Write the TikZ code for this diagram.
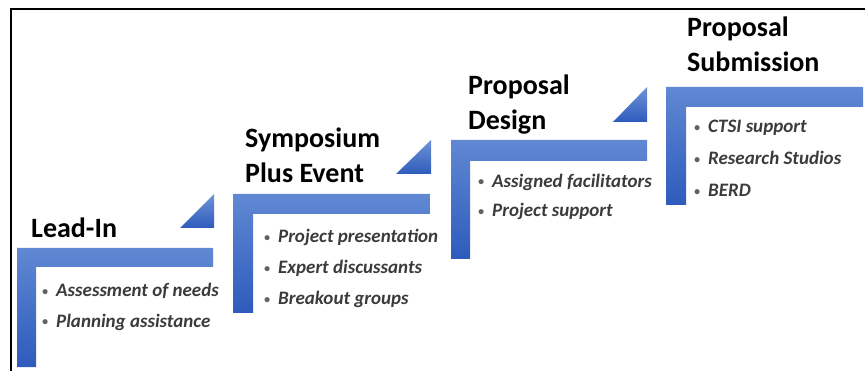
\documentclass[tikz,border=0pt]{standalone}
\usepackage{fontspec}
\setmainfont{Carlito}
\usepackage{tikz}
\usepackage{xcolor}
\definecolor{steplight}{HTML}{6088D3}
\definecolor{stepdark}{HTML}{2E5BBC}
\definecolor{bulletgrey}{HTML}{3B3B3B}
\newcommand{\stepitem}{\makebox[14pt][l]{\raisebox{1.5pt}{\fontsize{12}{12}\selectfont\color{bulletgrey!80}•}}}

\begin{document}
\begin{tikzpicture}[x=1pt, y=-1pt,
    stepfill/.style={top color=steplight, bottom color=stepdark, draw=none},
    riser/.style={top color=steplight!90!white, bottom color=stepdark, draw=none},
    steptitle/.style={anchor=base west, inner sep=0pt, align=left,
        font=\bfseries\fontsize{28}{35}\selectfont},
    steplist/.style={anchor=base west, inner sep=0pt, align=left, text=bulletgrey,
        font=\bfseries\itshape\fontsize{19}{#1}\selectfont},
    steplist/.default=30.5]
    \useasboundingbox (0, 0) rectangle (865, 371);
    \draw[line width=1.5pt] (11, 371) -- (11, 9) -- (865, 9);
    % steps
    \shade[stepfill] (17, 248) -- (213, 248) -- (213, 267) -- (36, 267) -- (36, 367) -- (17, 367) -- cycle;
    \shade[stepfill] (233, 194) -- (430, 194) -- (430, 214) -- (253, 214) -- (253, 313) -- (233, 313) -- cycle;
    \shade[stepfill] (451, 140) -- (647, 140) -- (647, 161) -- (470, 161) -- (470, 259) -- (451, 259) -- cycle;
    \shade[stepfill] (666, 87) -- (863, 87) -- (863, 107) -- (686, 107) -- (686, 205) -- (666, 205) -- cycle;
    % risers
    \shade[riser] (180, 228) -- (214, 228) -- (214, 194) -- cycle;
    \shade[riser] (396, 174) -- (431, 174) -- (431, 140) -- cycle;
    \shade[riser] (613, 122) -- (647, 122) -- (647, 87) -- cycle;
    % titles (base = last line)
    \node[steptitle] (t1) at (31, 238) {Lead-In};
    \node[steptitle] (t2) at (245, 183) {Symposium\\Plus Event};
    \node[steptitle] (t3) at (468, 130) {Proposal\\Design};
    \node[steptitle] (t4) at (687, 72) {Proposal\\Submission};
    % bullet lists
    \node[steplist] (l1) at (42, 327) {\stepitem Assessment of needs\\\stepitem Planning assistance};
    \node[steplist=31] (l2) at (264, 305) {\stepitem Project presentation\\\stepitem Expert discussants\\\stepitem Breakout groups};
    \node[steplist=29.5] (l3) at (478, 217) {\stepitem Assigned facilitators\\\stepitem Project support};
    \node[steplist=32] (l4) at (694, 197) {\stepitem CTSI support\\\stepitem Research Studios\\\stepitem BERD};
\end{tikzpicture}
\end{document}
